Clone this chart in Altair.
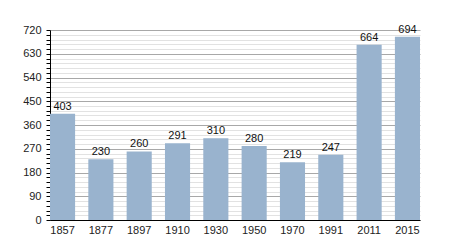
import altair as alt
import pandas as pd

years = ["1857", "1877", "1897", "1910", "1930", "1950", "1970", "1991", "2011", "2015"]
population = [403, 230, 260, 291, 310, 280, 219, 247, 664, 694]
y_ticks = list(range(0, 721, 18))

df = pd.DataFrame({"year": years, "pop": population})

base = alt.Chart(df).encode(
    x=alt.X("year:N", sort=years,
            scale=alt.Scale(paddingInner=0.345, paddingOuter=0),
            axis=alt.Axis(title=None, labelAngle=0, domainColor="black",
                          ticks=False, labelPadding=4, labelFontSize=11,
                          labelColor="#222", labelFont="Liberation Sans")),
    y=alt.Y("pop:Q", scale=alt.Scale(domain=[0, 720], nice=False),
            axis=alt.Axis(
                title=None, values=y_ticks,
                labelExpr="datum.value % 90 === 0 ? datum.label : ''",
                grid=True,
                gridColor={"condition": {"test": "datum.value % 90 === 0", "value": "#a8a8a8"}, "value": "#e2e2e2"},
                gridWidth=1,
                domainColor="black", tickColor="black", tickSize=4,
                labelPadding=5, labelFontSize=11, labelColor="#222",
                labelFont="Liberation Sans", labelOverlap=False,
                labelBound=False, labelFlush=False,
            )),
)

bars = base.mark_bar(color="#99B3CE")

labels = base.mark_text(baseline="bottom", dy=-2, fontSize=11,
                        font="Liberation Sans", color="#111").encode(
    text="pop:Q",
)

chart = alt.layer(bars, labels).properties(
    width=370, height=190,
    autosize=alt.AutoSizeParams(type="none"),
    padding={"left": 50, "top": 30, "right": 30, "bottom": 30},
).configure_view(stroke=None)

chart.save("out.html", embed_options={"renderer": "svg", "actions": False})
